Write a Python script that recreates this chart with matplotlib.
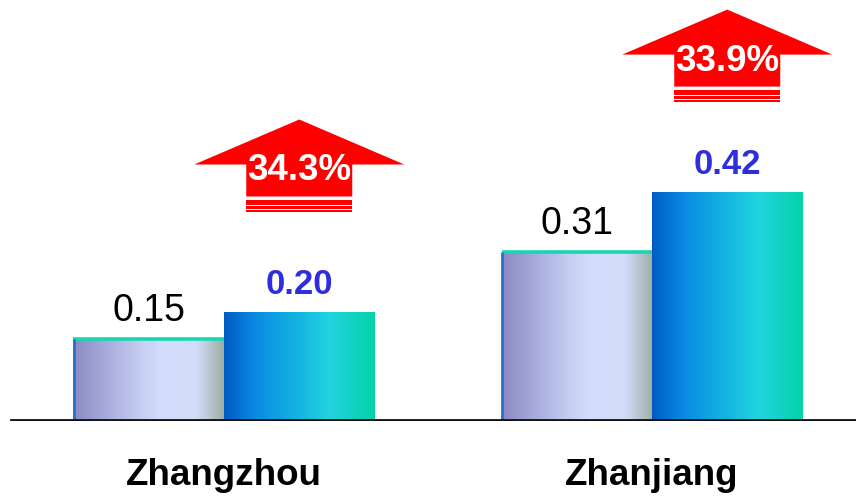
import numpy as np
import matplotlib
matplotlib.use("Agg")
import matplotlib.pyplot as plt
from matplotlib.colors import LinearSegmentedColormap
from matplotlib.patches import Polygon, Rectangle
from matplotlib.transforms import ScaledTranslation

# ---- data ----
cities = ["Zhangzhou", "Zhanjiang"]
before = [0.15, 0.31]
after = [0.20, 0.42]
growth = ["34.3%", "33.9%"]

# ---- layout ----
DPI = 100
PX = 72 / DPI                      # points per pixel
arrow_lift = [100, 90]             # px between bar top and arrow foot

plt.rcParams["font.family"] = ["Liberation Sans", "DejaVu Sans"]

fig = plt.figure(figsize=(8.56, 4.96), dpi=DPI)
ax = fig.add_axes([0, 75 / 496, 1, 421 / 496])
ax.axis("off")

w = 150.5 / 428
x = np.arange(len(cities))

light = LinearSegmentedColormap.from_list(
    "light", [(0, "#8A8AC4"), (0.45, "#C6CEF2"), (0.6, "#D4DEFC"),
              (0.82, "#D2DCF8"), (1, "#9EAEA6")])
deep = LinearSegmentedColormap.from_list(
    "deep", [(0, "#005CC4"), (0.22, "#0A8CE4"), (0.5, "#14B6E0"),
             (0.7, "#22D4E0"), (1, "#04D2A8")])
grad = np.linspace(0, 1, 256)[None, :]


def fill(bars, cmap):
    for b in bars:
        x0, y0 = b.get_x(), b.get_y()
        ax.imshow(grad, cmap=cmap, aspect="auto", interpolation="bilinear",
                  extent=(x0, x0 + b.get_width(), y0, y0 + b.get_height()),
                  zorder=2)


bars1 = ax.bar(x - w / 2, before, w, facecolor="none", edgecolor="none", zorder=3)
bars2 = ax.bar(x + w / 2, after, w, facecolor="none", edgecolor="none", zorder=3)
fill(bars1, light)
fill(bars2, deep)

# edge accents on the lighter bars
for b in bars1:
    x0, h = b.get_x(), b.get_height()
    ax.plot([x0, x0 + w], [h, h], color="#18D6B4", lw=2.6, zorder=4,
            solid_capstyle="butt")
    ax.plot([x0 + 0.002, x0 + 0.002], [0, h], color="#2A6FD0", lw=2.0,
            zorder=4, solid_capstyle="butt")

# baseline with a soft shadow
ax.axhline(-0.001, xmin=11 / 856, xmax=1, color="#9A9A9A", lw=1.4, zorder=5)
ax.axhline(0.0015, xmin=11 / 856, xmax=1, color="#111111", lw=2.0, zorder=6)

# value labels
for xc, v in zip(x - w / 2, before):
    ax.annotate(f"{v:.2f}", (xc, v), xytext=(0, 18 * PX),
                textcoords="offset points", ha="center", va="baseline",
                fontsize=27, color="black")
for xc, v in zip(x + w / 2, after):
    ax.annotate(f"{v:.2f}", (xc, v), xytext=(0, 18 * PX),
                textcoords="offset points", ha="center", va="baseline",
                fontsize=25, fontweight="bold", color="#2E2EDE")

# growth arrows above the second bar of each group
for xc, v, lift, g in zip(x + w / 2, after, arrow_lift, growth):
    tr = fig.dpi_scale_trans + ScaledTranslation(xc, v, ax.transData)
    s = 1 / DPI
    def p(px, py):
        return (px * s, (py + lift) * s)
    shape = [p(-53, 15.5), p(53, 15.5), p(53, 47.5), p(105, 47.5),
             p(0, 92.5), p(-105, 47.5), p(-53, 47.5)]
    ax.add_patch(Polygon(shape, closed=True, transform=tr, facecolor="#FF0000",
                         edgecolor="none", zorder=7, clip_on=False))
    for y0, hh in [(0.2, 1.8), (3.2, 2.9), (7.5, 4.3)]:
        ax.add_patch(Rectangle(p(-53, y0), 106 * s, hh * s, transform=tr,
                               facecolor="#FF0000", edgecolor="none",
                               zorder=7, clip_on=False))
    tx, ty = p(0, 41)
    ax.text(tx, ty, g, transform=tr, ha="center", va="center",
            fontsize=26.5, fontweight="bold", color="white", zorder=8)

# category labels
for xc, name in zip(x, cities):
    ax.annotate(name, (xc, 0), xytext=(0, -64 * PX),
                textcoords="offset points", ha="center", va="baseline",
                fontsize=26.5, fontweight="bold", color="black",
                annotation_clip=False)

ax.set_xlim(-224 / 428, 632 / 428)
ax.set_ylim(0, 421 / 545)

fig.savefig("out.png", dpi=DPI)
